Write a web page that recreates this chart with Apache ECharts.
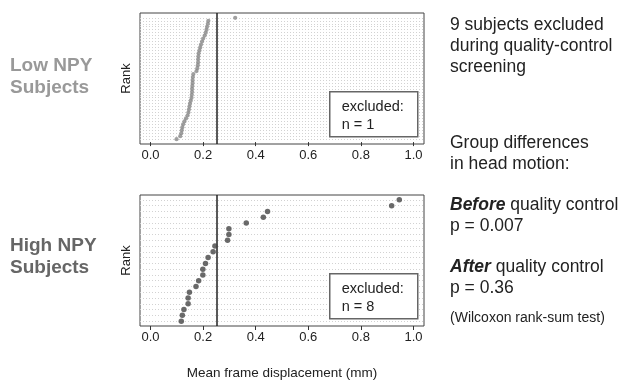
<!DOCTYPE html>
<html>
<head>
<meta charset="utf-8">
<script src="https://cdn.jsdelivr.net/npm/echarts@6/dist/echarts.min.js"></script>
<style>
  html, body { margin: 0; padding: 0; background: #fff; }
  #chart { width: 621px; height: 384px; }
</style>
</head>
<body>
<div id="chart"></div>
<script>
// mean frame displacement (mm), sorted, rank 1 = smallest
const lowNpy = [
  0.099, 0.113, 0.117, 0.119, 0.121, 0.124, 0.129, 0.135, 0.141, 0.144,
  0.146, 0.148, 0.150, 0.153, 0.156, 0.157, 0.158, 0.158, 0.159, 0.160,
  0.160, 0.161, 0.163, 0.175, 0.178, 0.180, 0.181, 0.181, 0.182, 0.183,
  0.186, 0.189, 0.192, 0.196, 0.200, 0.206, 0.210, 0.213, 0.215, 0.218,
  0.220, 0.322
];
const highNpy = [
  0.117, 0.121, 0.127, 0.143, 0.143, 0.148, 0.173, 0.183, 0.199, 0.199,
  0.209, 0.219, 0.238, 0.245, 0.293, 0.298, 0.298, 0.364, 0.429, 0.445,
  0.917, 0.946
];
const cutoff = 0.25;
const xTicks = [0, 0.2, 0.4, 0.6, 0.8, 1.0];

const font = 'Liberation Sans, Arial, Helvetica, sans-serif';
const chart = echarts.init(document.getElementById('chart'));

function rankData(arr) {
  return arr.map((v, i) => [v, i + 1]);
}

function yRange(arr) {
  const pad = 0.04 * (arr.length - 1);
  return {min: 1 - pad, max: arr.length + pad};
}

function xAxisFor(idx, withName) {
  return {
    gridIndex: idx,
    type: 'value',
    min: -0.04,
    max: 1.04,
    axisLine: {show: false},
    splitLine: {show: false},
    axisTick: {
      show: true, length: 4, customValues: xTicks,
      lineStyle: {color: '#333', width: 1}
    },
    axisLabel: {
      customValues: xTicks, margin: 5,
      fontSize: 13, fontFamily: font, color: '#222',
      formatter: v => v.toFixed(1)
    },
    name: withName ? 'Mean frame displacement (mm)' : '',
    nameLocation: 'middle',
    nameGap: 40,
    nameTextStyle: {fontSize: 13.5, fontFamily: font, color: '#222'}
  };
}

function yAxisFor(idx, arr) {
  const r = yRange(arr);
  return {
    gridIndex: idx,
    type: 'value',
    min: r.min,
    max: r.max,
    axisLine: {show: false},
    axisTick: {show: false},
    axisLabel: {show: false},
    splitLine: {show: false},
    name: 'Rank',
    nameLocation: 'middle',
    nameRotate: 90,
    nameGap: 7,
    nameTextStyle: {fontSize: 13, fontFamily: font, color: '#222'}
  };
}

function dotSeries(idx, arr, color, size) {
  const gridLines = arr.map((v, i) => ({
    yAxis: i + 1,
    lineStyle: {color: '#d2d2d2', width: 1, type: [1, 2]}
  }));
  gridLines.push({xAxis: cutoff, lineStyle: {color: '#222', width: 1.5, type: 'solid'}});
  return {
    type: 'scatter',
    xAxisIndex: idx,
    yAxisIndex: idx,
    data: rankData(arr),
    symbol: 'circle',
    symbolSize: size,
    itemStyle: {color: color},
    z: 5,
    markLine: {
      silent: true,
      symbol: 'none',
      label: {show: false},
      animation: false,
      data: gridLines
    }
  };
}

function excludedBox(top, arr) {
  const n = arr.filter(v => v > cutoff).length;
  return {
    type: 'group',
    left: 329,
    top: top,
    z: 100,
    children: [
      {type: 'rect', z: 100, shape: {x: 0, y: 0, width: 88, height: 45},
        style: {fill: '#fff', stroke: '#666', lineWidth: 1.5}},
      {type: 'text', z: 101, x: 12, y: 6,
        style: {text: 'excluded:\nn = ' + n, font: '14.5px ' + font, fill: '#222', lineHeight: 18}}
    ]
  };
}

const rightText = {fontSize: 17.5, fontFamily: font, fill: '#222'};
const boldIt = {b: {fontSize: 17.5, fontFamily: font, fill: '#222', fontWeight: 'bold', fontStyle: 'italic'}};

chart.setOption({
  animation: false,
  grid: [
    {left: 140, top: 13, width: 284, height: 131, show: true, borderColor: '#444', borderWidth: 1, backgroundColor: 'transparent', outerBoundsMode: 'none'},
    {left: 140, top: 195, width: 284, height: 131, show: true, borderColor: '#444', borderWidth: 1, backgroundColor: 'transparent', outerBoundsMode: 'none'}
  ],
  xAxis: [xAxisFor(0, false), xAxisFor(1, true)],
  yAxis: [yAxisFor(0, lowNpy), yAxisFor(1, highNpy)],
  series: [
    dotSeries(0, lowNpy, '#888888', 4.2),
    dotSeries(1, highNpy, '#454545', 5.5)
  ],
  graphic: [
    {type: 'text', left: 10, top: 55,
      style: {text: 'Low NPY\nSubjects', font: 'bold 19px ' + font, fill: '#999', lineHeight: 22}},
    {type: 'text', left: 10, top: 235,
      style: {text: 'High NPY\nSubjects', font: 'bold 19px ' + font, fill: '#666', lineHeight: 22}},
    excludedBox(91, lowNpy),
    excludedBox(273, highNpy),
    {type: 'text', left: 450, top: 15,
      style: Object.assign({text: '9 subjects excluded\nduring quality-control\nscreening', lineHeight: 21}, rightText)},
    {type: 'text', left: 450, top: 133,
      style: Object.assign({text: 'Group differences\nin head motion:', lineHeight: 21}, rightText)},
    {type: 'text', left: 450, top: 195,
      style: Object.assign({text: '{b|Before} quality control\np = 0.007', lineHeight: 21, rich: boldIt}, rightText)},
    {type: 'text', left: 450, top: 257,
      style: Object.assign({text: '{b|After} quality control\np = 0.36', lineHeight: 21, rich: boldIt}, rightText)},
    {type: 'text', left: 450, top: 311,
      style: Object.assign({}, rightText, {text: '(Wilcoxon rank-sum test)', fontSize: 14})}
  ]
});
</script>
</body>
</html>
